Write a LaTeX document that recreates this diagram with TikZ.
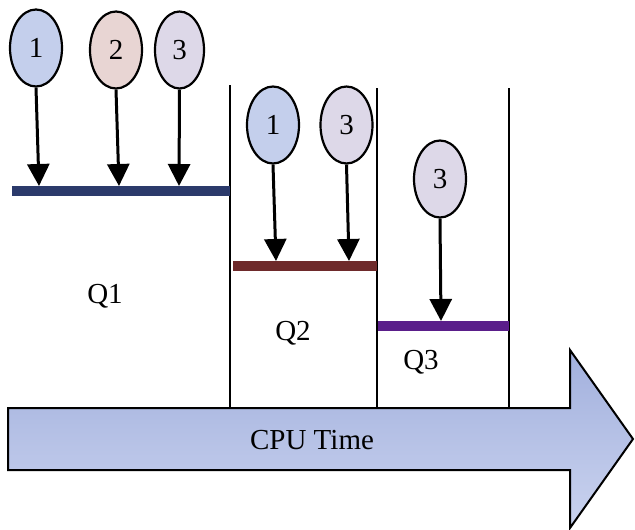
\documentclass[tikz,border=0pt]{standalone}
\usepackage{fontspec}
\setmainfont{Liberation Serif}
\usetikzlibrary{arrows.meta,shapes.geometric}
\definecolor{ballA}{HTML}{C4CFEC}
\definecolor{ballB}{HTML}{E8D5D3}
\definecolor{ballC}{HTML}{DDD8E8}
\definecolor{barA}{HTML}{2B3A6B}
\definecolor{barB}{HTML}{6E2A2B}
\definecolor{barC}{HTML}{5A1E8A}
\definecolor{cpuTop}{HTML}{A2B0DD}
\definecolor{cpuBot}{HTML}{CAD3EF}
\tikzset{
  job/.style={ellipse, draw=black, line width=2.2pt, minimum width=52pt, minimum height=77pt, inner sep=0pt, font=\fontsize{29}{33}\selectfont},
  drop/.style={line width=3pt, -{Triangle[width=22pt,length=22pt]}},
  qbar/.style={line width=10pt},
  wall/.style={line width=2pt},
  lbl/.style={font=\fontsize{29}{33}\selectfont, inner sep=0pt}
}
\begin{document}
\begin{tikzpicture}[x=1pt,y=-1pt]
\useasboundingbox (0,0) rectangle (635,530);
% big arrow
\path[top color=cpuTop, bottom color=cpuBot, draw=black, line width=2pt, line join=miter]
  (8,408) -- (570,408) -- (570,350) -- (633,439) -- (570,528) -- (570,470) -- (8,470) -- cycle;
\node[lbl] (cpu) at (312,440) {CPU Time};
% walls
\coordinate (w1t) at (230,85);  \coordinate (w1b) at (230,408);
\coordinate (w2t) at (377,88);  \coordinate (w2b) at (377,408);
\coordinate (w3t) at (509,88);  \coordinate (w3b) at (509,408);
\draw[wall] (w1t) -- (w1b);
\draw[wall] (w2t) -- (w2b);
\draw[wall] (w3t) -- (w3b);
% bars
\coordinate (b1l) at (12,191);  \coordinate (b1r) at (230,191);
\coordinate (b2l) at (233,266); \coordinate (b2r) at (377,266);
\coordinate (b3l) at (378,326); \coordinate (b3r) at (509,326);
\draw[qbar, barA] (b1l) -- (b1r);
\draw[qbar, barB] (b2l) -- (b2r);
\draw[qbar, barC] (b3l) -- (b3r);
% labels
\node[lbl] (q1) at (105,296) {Q1};
\node[lbl] (q2) at (293,333) {Q2};
\node[lbl] (q3) at (421,362) {Q3};
% jobs
\node[job, fill=ballA] (a1) at (36,48) {1};
\node[job, fill=ballB] (a2) at (116,50) {2};
\node[job, fill=ballC, minimum width=49pt] (a3) at (179.5,50) {3};
\node[job, fill=ballA] (c1) at (273,125) {1};
\node[job, fill=ballC] (c3) at (346.5,125) {3};
\node[job, fill=ballC] (d3) at (440,179) {3};
% drop targets
\coordinate (t1) at (39,186);
\coordinate (t2) at (119,186);
\coordinate (t3) at (179,186);
\coordinate (u1) at (276,261);
\coordinate (u3) at (349,261);
\coordinate (v3) at (441,321);
\draw[drop] (a1.south) -- (t1);
\draw[drop] (a2.south) -- (t2);
\draw[drop] (a3.south) -- (t3);
\draw[drop] (c1.south) -- (u1);
\draw[drop] (c3.south) -- (u3);
\draw[drop] (d3.south) -- (v3);
\end{tikzpicture}
\end{document}
